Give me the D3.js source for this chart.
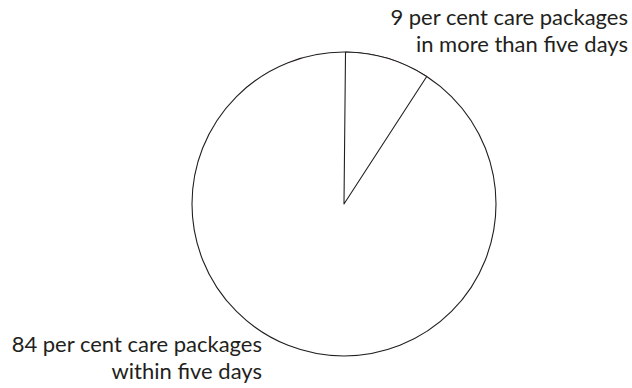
<!DOCTYPE html>
<html>
<head>
<meta charset="utf-8">
<script src="https://cdn.jsdelivr.net/npm/d3@7"></script>
<style>
  body { margin: 0; background: #fff; }
  text { font-family: Lato, "Open Sans", sans-serif; fill: #231f20; }
</style>
</head>
<body>
<div id="chart"></div>
<script>
let width = 632,
    height = 388,
    cx = 344,
    cy = 204,
    radius = 152;

// slices, clockwise from 12 o'clock
const categories = ["more than five days", "within five days", "other"];
const values = [9, 84, 7];
const labelsTop = ["9 per cent care packages", "in more than five days"];
const labelsBottom = ["84 per cent care packages", "within five days"];

const svg = d3.select("#chart")
  .append("svg")
  .attr("width", width)
  .attr("height", height);

const data = categories.map((c, i) => ({ name: c, value: values[i] }));

const pie = d3.pie()
  .sort(null)
  .value(d => d.value)
  .startAngle(0.01)
  .endAngle(0.01 + 2 * Math.PI);

const arc = d3.arc().innerRadius(0).outerRadius(radius);

const g = svg.append("g").attr("transform", `translate(${cx},${cy})`);

// outer circle
g.append("circle")
  .attr("r", radius)
  .attr("fill", "#fff")
  .attr("stroke", "#231f20")
  .attr("stroke-width", 1.1);

// only the small slice shows its edges
g.selectAll("path")
  .data(pie(data).filter(d => d.data.name === "more than five days"))
  .join("path")
  .attr("d", arc)
  .attr("fill", "#fff")
  .attr("stroke", "#231f20")
  .attr("stroke-width", 1.1)
  .attr("stroke-linejoin", "round");

svg.append("text")
  .attr("text-anchor", "end")
  .attr("font-size", 22)
  .selectAll("tspan")
  .data(labelsTop)
  .join("tspan")
  .attr("x", cx + radius + 132)
  .attr("y", (d, i) => 25 + i * 27)
  .text(d => d);

svg.append("text")
  .attr("text-anchor", "end")
  .attr("font-size", 22)
  .selectAll("tspan")
  .data(labelsBottom)
  .join("tspan")
  .attr("x", cx - radius + 70)
  .attr("y", (d, i) => 352 + i * 27)
  .text(d => d);
</script>
</body>
</html>
